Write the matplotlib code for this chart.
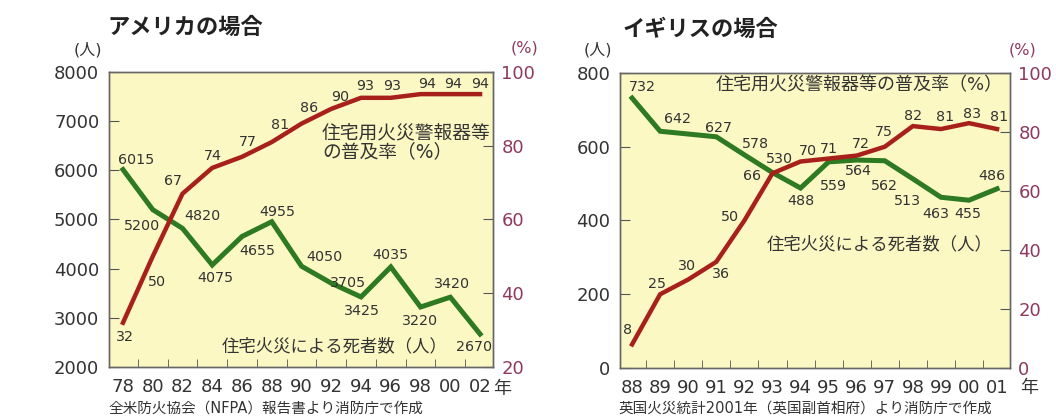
import matplotlib.pyplot as plt

# 数字はDejaVu、日本語はNotoで表示
plt.rcParams['font.family'] = ['DejaVu Sans', 'Noto Sans CJK JP']

# アメリカ
US_YEARS = [1978, 1980, 1982, 1984, 1986, 1988, 1990, 1992, 1994, 1996, 1998, 2000, 2002]
US_DEATHS = [6015, 5200, 4820, 4075, 4655, 4955, 4050, 3705, 3425, 4035, 3220, 3420, 2670]
US_RATE = [32, 50, 67, 74, 77, 81, 86, 90, 93, 93, 94, 94, 94]
US_XLABELS = ['78', '80', '82', '84', '86', '88', '90', '92', '94', '96', '98', '00', '02']

# イギリス (1990年の死者数は表示なし)
UK_YEARS = list(range(1988, 2002))
UK_DEATH_YEARS = [1988, 1989, 1991, 1992, 1993, 1994, 1995, 1996, 1997, 1998, 1999, 2000, 2001]
UK_DEATHS = [732, 642, 627, 578, 530, 488, 559, 564, 562, 513, 463, 455, 486]
UK_RATE = [8, 25, 30, 36, 50, 66, 70, 71, 72, 75, 82, 81, 83, 81]
UK_XLABELS = ['88', '89', '90', '91', '92', '93', '94', '95', '96', '97', '98', '99', '00', '01']

# 数値ラベルの位置ずらし(ピクセル)
US_DEATH_OFF = [(13, 10), (-11, -16), (20, 12), (3, -13), (15, -15), (6, 10), (23, 9),
                (17, 0), (1, -14), (0, 12), (-1, -14), (2, 13), (-6, -13)]
US_RATE_OFF = [(2, -14), (4, -26), (-9, 13), (1, 12), (6, 15), (8, 17), (8, 16),
               (9, 12), (4, 12), (1, 12), (7, 10), (3, 10), (0, 10)]
UK_DEATH_OFF = [(10, 11), (17, 12), (2, 9), (11, 11), (7, 14), (0, -13), (5, -24),
                (2, -11), (0, -25), (-5, -22), (-5, -17), (-1, -14), (-5, 13)]
UK_RATE_OFF = [(-5, 14), (-3, 10), (-1, 13), (5, -12), (-14, 3), (-20, -3), (7, 10),
               (0, 10), (4, 12), (-1, 15), (0, 10), (4, 12), (3, 9), (2, 12)]

W, H = 1056, 417
BG = '#fbf8c4'
GREEN = '#2d7a22'
RED = '#a8201a'
PCT_COLOR = '#8e3a5c'
TXT = '#333333'


def px(x, y):
    return x / W, 1 - y / H


def draw_panel(rect, xlim, ylim, yticks, rticks, xs, xlabels, minor,
               dyears, deaths, doff, ryears, rate, roff):
    ax = fig.add_axes(rect)
    ax.set_facecolor(BG)
    ax.plot(dyears, deaths, color=GREEN, lw=3.6, solid_joinstyle='miter', zorder=3)
    for x, v, (dx, dy) in zip(dyears, deaths, doff):
        ax.annotate(str(v), (x, v), xytext=(dx, dy), textcoords='offset pixels',
                    ha='center', va='center', fontsize=10.3, color=TXT)
    ax.set_xlim(*xlim)
    ax.set_ylim(*ylim)
    ax.set_yticks(yticks)
    ax.set_xticks(xs)
    ax.set_xticklabels(xlabels)
    ax.set_xticks(minor, minor=True)
    ax.tick_params(axis='x', which='major', length=0, pad=8, labelsize=13, labelcolor=TXT)
    ax.tick_params(axis='x', which='minor', direction='in', length=6, color='#555555')
    ax.tick_params(axis='y', direction='in', length=7, pad=7, labelsize=13,
                   labelcolor=TXT, color='#555555')

    ax2 = ax.twinx()
    ax2.plot(ryears, rate, color=RED, lw=3.2, solid_joinstyle='miter', zorder=3)
    for x, v, (dx, dy) in zip(ryears, rate, roff):
        ax2.annotate(str(v), (x, v), xytext=(dx, dy), textcoords='offset pixels',
                     ha='center', va='center', fontsize=10.3, color=TXT)
    ax2.set_ylim(0 if rticks[0] == 0 else 20, 100)
    ax2.set_yticks(rticks)
    ax2.tick_params(axis='y', direction='in', length=7, pad=6, labelsize=13,
                    labelcolor=PCT_COLOR, color='#555555')
    for a in (ax, ax2):
        for s in a.spines.values():
            s.set_color('#666666')
            s.set_linewidth(1.0)
    return ax


fig = plt.figure(figsize=(W / 100, H / 100), dpi=100)

# アメリカの場合
draw_panel([109 / W, 1 - 367 / H, 384 / W, 295 / H], (1977.06, 2002.87), (2000, 8000),
           range(2000, 8001, 1000), [20, 40, 60, 80, 100],
           US_YEARS, US_XLABELS, list(range(1979, 2002, 2)),
           US_YEARS, US_DEATHS, US_DEATH_OFF, US_YEARS, US_RATE, US_RATE_OFF)

# イギリスの場合
draw_panel([620 / W, 1 - 368 / H, 390 / W, 295 / H], (1987.57, 2001.46), (0, 800),
           range(0, 801, 200), [0, 20, 40, 60, 80, 100],
           UK_YEARS, UK_XLABELS, [y + 0.5 for y in range(1988, 2001)],
           UK_DEATH_YEARS, UK_DEATHS, UK_DEATH_OFF, UK_YEARS, UK_RATE, UK_RATE_OFF)

# タイトル・単位
fig.text(*px(107, 27), 'アメリカの場合', fontsize=16, fontweight='bold', color='#222222',
         ha='left', va='center')
fig.text(*px(623, 29), 'イギリスの場合', fontsize=16, fontweight='bold', color='#222222',
         ha='left', va='center')
fig.text(*px(88, 50), '(人)', fontsize=11.5, color=TXT, ha='center', va='center')
fig.text(*px(598, 50), '(人)', fontsize=11.5, color=TXT, ha='center', va='center')
fig.text(*px(525, 48), '(%)', fontsize=11.5, color=PCT_COLOR, ha='center', va='center')
fig.text(*px(1023, 50), '(%)', fontsize=11.5, color=PCT_COLOR, ha='center', va='center')
fig.text(*px(502, 389), '年', fontsize=13, color=TXT, ha='center', va='center')
fig.text(*px(1029, 388), '年', fontsize=13, color=TXT, ha='center', va='center')

# 系列名
fig.text(*px(322, 142), '住宅用火災警報器等\nの普及率（%）', fontsize=13.5, color=TXT,
         ha='left', va='center', linespacing=1.0)
fig.text(*px(222, 346), '住宅火災による死者数（人）', fontsize=12.5, color=TXT,
         ha='left', va='center')
fig.text(*px(1003, 85), '住宅用火災警報器等の普及率（%）', fontsize=13, color=TXT,
         ha='right', va='center')
fig.text(*px(993, 244), '住宅火災による死者数（人）', fontsize=12.5, color=TXT,
         ha='right', va='center')

# 出典
fig.text(*px(108, 408), '全米防火協会（NFPA）報告書より消防庁で作成', fontsize=10.5,
         color=TXT, ha='left', va='center')
fig.text(*px(618, 408), '英国火災統計2001年（英国副首相府）より消防庁で作成', fontsize=10.5,
         color=TXT, ha='left', va='center')

fig.savefig('out.png', dpi=100)
